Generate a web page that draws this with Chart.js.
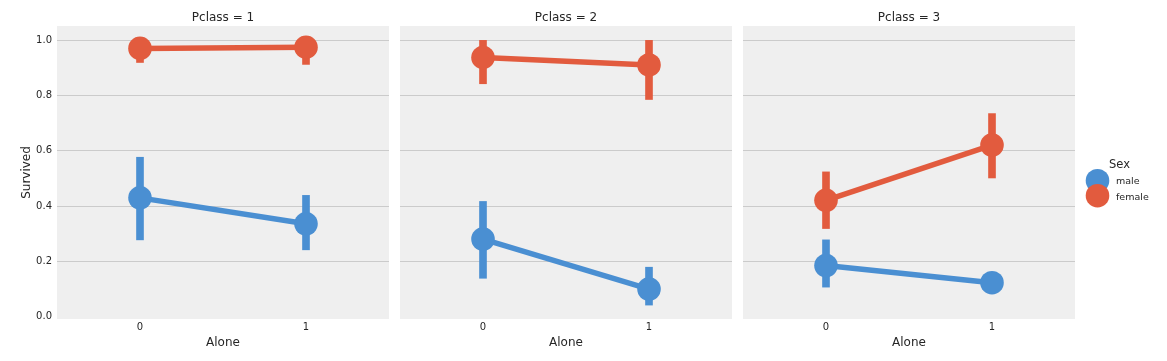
<!DOCTYPE html>
<html><head><meta charset="utf-8">
<script src="https://cdn.jsdelivr.net/npm/chart.js@4/dist/chart.umd.min.js"></script>
<style>
html,body{margin:0;padding:0;background:#fff;}
body{width:1167px;height:361px;overflow:hidden;position:relative;}
canvas{position:absolute;top:0;}
</style></head><body>
<canvas id="c1" width="393" height="361" style="left:0px"></canvas>
<canvas id="c2" width="336" height="361" style="left:400px"></canvas>
<canvas id="c3" width="424" height="361" style="left:743px"></canvas>
<script>
// ---- data ----
const categories = ['0', '1'];
const panelTitles = ['Pclass = 1', 'Pclass = 2', 'Pclass = 3'];
const yTicks = [0.0, 0.2, 0.4, 0.6, 0.8, 1.0];
const seriesNames = ['male', 'female'];
const seriesColors = ['#4A8FD2', '#E25B3E'];

const maleP1 = [0.430, 0.336];
const maleP1CI = [[0.278, 0.577], [0.242, 0.439]];
const femaleP1 = [0.971, 0.975];
const femaleP1CI = [[0.920, 1.0], [0.913, 1.0]];

const maleP2 = [0.281, 0.100];
const maleP2CI = [[0.139, 0.417], [0.042, 0.179]];
const femaleP2 = [0.938, 0.911];
const femaleP2CI = [[0.843, 1.0], [0.786, 1.0]];

const maleP3 = [0.185, 0.123];
const maleP3CI = [[0.107, 0.278], [0.105, 0.142]];
const femaleP3 = [0.421, 0.621];
const femaleP3CI = [[0.319, 0.524], [0.502, 0.735]];

const FONT = '"DejaVu Sans", sans-serif';
const TXT = '#262626';

function datasetsFor(male, maleCI, female, femaleCI) {
  const lineDs = (name, vals, color) => ({
    type: 'line', label: name, data: vals, order: 0,
    borderColor: color, backgroundColor: color, borderWidth: 5.5,
    pointRadius: 11.8, pointHoverRadius: 11.8, pointBorderWidth: 0,
    pointBackgroundColor: color, tension: 0
  });
  const errDs = (name, ci, color) => ({
    type: 'bar', label: name + ' ci', data: ci, order: 1,
    backgroundColor: color, borderWidth: 0, barThickness: 7, grouped: false
  });
  return [
    lineDs(seriesNames[1], female, seriesColors[1]),
    lineDs(seriesNames[0], male, seriesColors[0]),
    errDs(seriesNames[1], femaleCI, seriesColors[1]),
    errDs(seriesNames[0], maleCI, seriesColors[0])
  ];
}

const panelBg = {
  id: 'panelBg',
  beforeDraw(chart) {
    const {ctx, chartArea: a} = chart;
    ctx.save();
    ctx.fillStyle = '#EFEFEF';
    ctx.fillRect(a.left, a.top, a.right - a.left, a.bottom - a.top);
    ctx.restore();
  }
};
const panelTitle = {
  id: 'panelTitle',
  afterDraw(chart, args, opts) {
    const {ctx, chartArea: a} = chart;
    ctx.save();
    ctx.font = '12px ' + FONT;
    ctx.fillStyle = TXT;
    ctx.textAlign = 'center';
    ctx.textBaseline = 'alphabetic';
    ctx.fillText(opts.text, (a.left + a.right) / 2, 21);
    ctx.restore();
  }
};
const sexLegend = {
  id: 'sexLegend',
  afterDraw(chart, args, opts) {
    if (!opts.show) return;
    const ctx = chart.ctx;
    const a = chart.chartArea;
    const cx = a.right + 22.5;
    ctx.save();
    ctx.font = '11.5px ' + FONT;
    ctx.fillStyle = TXT;
    ctx.textBaseline = 'alphabetic';
    ctx.fillText('Sex', a.right + 34, 168);
    const ys = [180.7, 195.7];
    for (let i = 0; i < seriesNames.length; i++) {
      ctx.beginPath();
      ctx.fillStyle = seriesColors[i];
      ctx.arc(cx, ys[i], 11.8, 0, Math.PI * 2);
      ctx.fill();
    }
    ctx.font = '9.5px ' + FONT;
    ctx.fillStyle = TXT;
    ctx.fillText(seriesNames[0], a.right + 41, 184.3);
    ctx.fillText(seriesNames[1], a.right + 41, 199.8);
    ctx.restore();
  }
};

function makeChart(id, idx, male, maleCI, female, femaleCI, opts) {
  const first = idx === 0;
  return new Chart(document.getElementById(id), {
    type: 'line',
    data: { labels: categories, datasets: datasetsFor(male, maleCI, female, femaleCI) },
    plugins: [panelBg, panelTitle, sexLegend],
    options: {
      responsive: false, animation: false, events: [],
      layout: { autoPadding: false, padding: { top: 26, bottom: 0, left: 0, right: opts.right } },
      plugins: {
        legend: { display: false }, tooltip: { enabled: false }, title: { display: false },
        panelTitle: { text: panelTitles[idx] },
        sexLegend: { show: idx === 2 }
      },
      scales: {
        x: {
          type: 'category', offset: true,
          grid: { display: false, drawTicks: false }, border: { display: false },
          ticks: { padding: 2, color: TXT, font: { family: FONT, size: 10 } },
          title: { display: true, text: 'Alone', color: TXT, font: { family: FONT, size: 12 }, padding: { top: 0, bottom: 11.3 } },
          afterFit(s) { s.height = 42; }
        },
        y: {
          min: -0.0084, max: 1.052,
          afterBuildTicks(s) { s.ticks = yTicks.map(v => ({ value: v })); },
          grid: {
            drawTicks: false, lineWidth: 1,
            color: c => (c.tick && c.tick.value === 0) ? 'rgba(0,0,0,0)' : '#CBCBCB'
          },
          border: { display: false },
          ticks: {
            display: first, padding: 5, color: TXT, font: { family: FONT, size: 10 },
            callback: v => Number(v).toFixed(1)
          },
          title: { display: first, text: 'Survived', color: TXT, font: { family: FONT, size: 12 }, padding: { top: 19.6, bottom: 0 } },
          afterFit(s) { s.width = first ? 57 : 0; }
        }
      }
    }
  });
}

makeChart('c1', 0, maleP1, maleP1CI, femaleP1, femaleP1CI, { right: 4 });
makeChart('c2', 1, maleP2, maleP2CI, femaleP2, femaleP2CI, { right: 4 });
makeChart('c3', 2, maleP3, maleP3CI, femaleP3, femaleP3CI, { right: 92 });
</script>
</body></html>
